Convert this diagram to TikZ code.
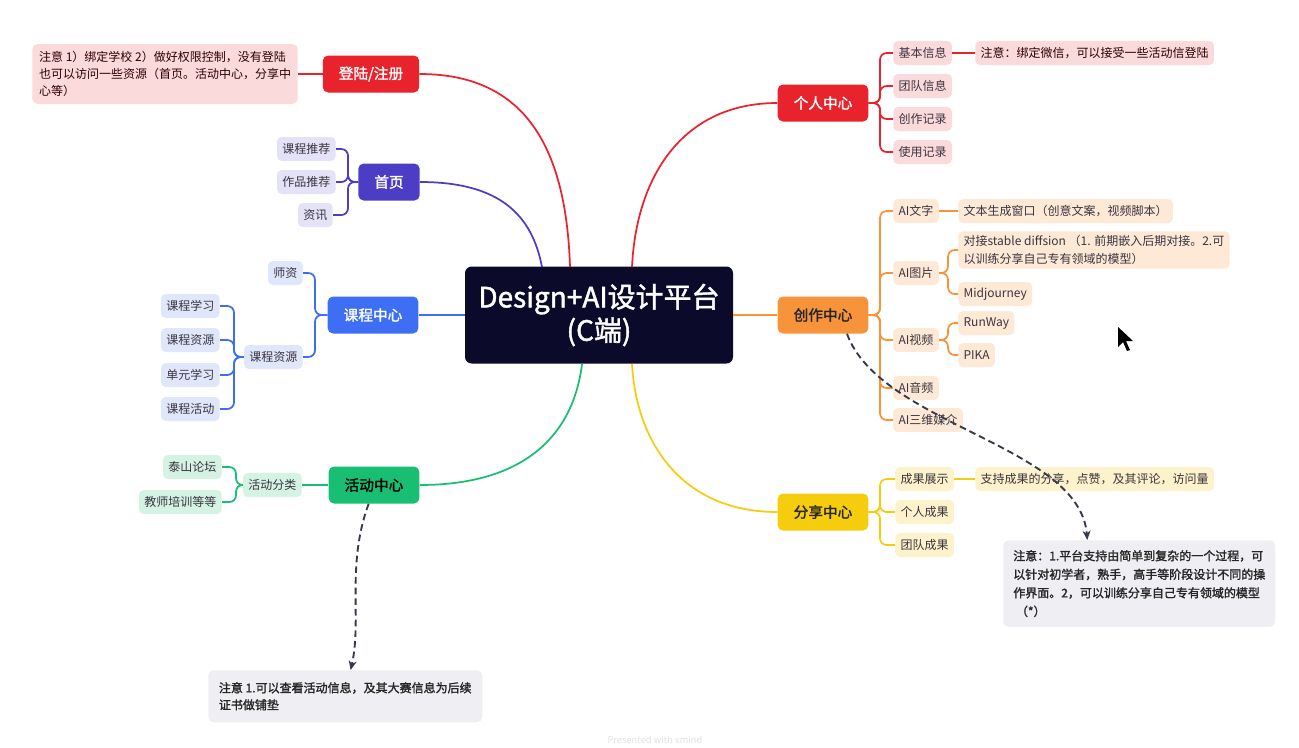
\documentclass[tikz,border=0pt]{standalone}
\usepackage{fontspec}
\setmainfont{Noto Sans CJK SC}[AutoFakeBold=1.6]
\usetikzlibrary{arrows.meta}
\definecolor{cnav}{HTML}{0B0A2B}
\definecolor{cred}{HTML}{E8232C}
\definecolor{cpink}{HTML}{FBDADC}
\definecolor{cpur}{HTML}{4C3DC4}
\definecolor{cpurl}{HTML}{E4E2F7}
\definecolor{cblu}{HTML}{3E6EF4}
\definecolor{cblul}{HTML}{E0E7FB}
\definecolor{cgrn}{HTML}{18BE72}
\definecolor{cgrnl}{HTML}{D5F3E4}
\definecolor{cora}{HTML}{F7933A}
\definecolor{coral}{HTML}{FDE9D6}
\definecolor{cyel}{HTML}{F5CD0C}
\definecolor{cyell}{HTML}{FCF3CC}
\definecolor{cgry}{HTML}{EFEEF2}
\definecolor{ctxt}{HTML}{3B3440}
\definecolor{cdash}{HTML}{343A4A}
\tikzset{
  mainbox/.style={rounded corners=4pt, inner xsep=12pt, inner ysep=0pt, minimum height=27.75pt,
    font=\fontsize{11}{13}\selectfont\bfseries, text=white},
  subbox/.style={rounded corners=3.5pt, inner xsep=4pt, inner ysep=0pt, minimum height=18pt,
    font=\fontsize{9}{11}\selectfont, text=ctxt},
  notebox/.style={rounded corners=4pt, inner xsep=4pt, inner ysep=4pt, align=left, text=ctxt},
  link/.style={line width=1.3pt, rounded corners=5pt},
  dasharrow/.style={line width=1.4pt, dash pattern=on 5pt off 3pt, color=cdash, -{Stealth[length=7pt,width=6pt]}},
}
\begin{document}
\begin{tikzpicture}[x=0.75pt,y=-0.75pt]
\useasboundingbox (0,0) rectangle (1299,747);

% central
\node[fill=cnav, rounded corners=5pt, minimum width=201pt, minimum height=72.75pt, text=white,
  align=center, font=\fontsize{21}{25}\selectfont\bfseries] (c) at (599,315) {Design+AI设计平台\\(C端)};

% ---- main branches ----
\node[mainbox, fill=cred] (dl) at (371,74) {登陆/注册};
\node[mainbox, fill=cpur] (sy) at (389,182) {首页};
\node[mainbox, fill=cblu] (kc) at (373,315) {课程中心};
\node[mainbox, fill=cgrn, text=black] (hd) at (374,485) {活动中心};
\node[mainbox, fill=cred] (gr) at (823,103) {个人中心};
\node[mainbox, fill=cora, text=black!85] (cz) at (823,315) {创作中心};
\node[mainbox, fill=cyel, text=black!85] (fx) at (823,512) {分享中心};

\draw[line width=1.3pt, cred] (dl.east) .. controls (520,74) and (566,140) .. (570,267);
\draw[line width=1.3pt, cpur] (sy.east) .. controls (500,182) and (532,215) .. (542,267);
\draw[line width=1.3pt, cblu] (kc.east) -- (c.west |- kc.east);
\draw[line width=1.3pt, cgrn] (hd.east) .. controls (530,485) and (574,430) .. (582,364);
\draw[line width=1.3pt, cred] (gr.west) .. controls (680,103) and (636,180) .. (632,267);
\draw[line width=1.3pt, cora] (cz.west) -- (c.east |- cz.west);
\draw[line width=1.3pt, cyel] (fx.west) .. controls (680,512) and (636,440) .. (632,364);

% ---- 登陆/注册 note ----
\node[notebox, fill=cpink, anchor=east, text=black!70!red!60!black, minimum width=199pt, minimum height=45pt,
  font=\fontsize{9}{12.75}\selectfont] (dln) at (298,74)
  {注意 1）绑定学校 2）做好权限控制，没有登陆\\也可以访问一些资源（首页。活动中心，分享中\\心等）};
\draw[line width=1.3pt, cred] (dln.east) -- (dl.west);

% ---- 首页 ----
\node[subbox, fill=cpurl, anchor=east] (sy1) at (336,149) {课程推荐};
\node[subbox, fill=cpurl, anchor=east] (sy2) at (336,182) {作品推荐};
\node[subbox, fill=cpurl, anchor=east] (sy3) at (333,215) {资讯};
\foreach \n in {sy1,sy2,sy3}
  \draw[link, cpur] (sy.west) -- (348,182) |- (\n.east);

% ---- 课程中心 ----
\node[subbox, fill=cblul, anchor=east] (kc1) at (303,273) {师资};
\node[subbox, fill=cblul, anchor=east] (kc2) at (303,357) {课程资源};
\foreach \n in {kc1,kc2}
  \draw[link, cblu] (kc.west) -- (315,315) |- (\n.east);
\node[subbox, fill=cblul, anchor=east] (kr1) at (220,306) {课程学习};
\node[subbox, fill=cblul, anchor=east] (kr2) at (220,340) {课程资源};
\node[subbox, fill=cblul, anchor=east] (kr3) at (220,375) {单元学习};
\node[subbox, fill=cblul, anchor=east] (kr4) at (220,409) {课程活动};
\foreach \n in {kr1,kr2,kr3,kr4}
  \draw[link, cblu] (kc2.west) -- (234,357) |- (\n.east);

% ---- 活动中心 ----
\node[subbox, fill=cgrnl, anchor=east] (hd1) at (302,485) {活动分类};
\draw[line width=1.3pt, cgrn] (hd.west) -- (hd1.east);
\node[subbox, fill=cgrnl, anchor=east] (hd11) at (222,467) {泰山论坛};
\node[subbox, fill=cgrnl, anchor=east] (hd12) at (222,502) {教师培训等等};
\foreach \n in {hd11,hd12}
  \draw[link, cgrn] (hd1.west) -- (236,485) |- (\n.east);

\node[notebox, fill=cgry, anchor=north west, minimum width=204.75pt, minimum height=39pt, text=black!85,
  font=\fontsize{9}{12.75}\selectfont\bfseries, inner xsep=8pt] (hdn) at (208,670)
  {注意 1.可以查看活动信息，及其大赛信息为后续\\证书做铺垫};
\draw[dasharrow] ([xshift=-4pt]hd.south) .. controls (346,565) and (362,620) .. ([xshift=4pt]hdn.north);

% ---- 个人中心 ----
\node[subbox, fill=cpink, anchor=west] (gr1) at (893,53) {基本信息};
\node[subbox, fill=cpink, anchor=west] (gr2) at (893,86) {团队信息};
\node[subbox, fill=cpink, anchor=west] (gr3) at (893,119) {创作记录};
\node[subbox, fill=cpink, anchor=west] (gr4) at (893,152) {使用记录};
\foreach \n in {gr1,gr2,gr3,gr4}
  \draw[link, cred] (gr.east) -- (880,103) |- (\n.west);
\node[subbox, fill=cpink, anchor=west, text=black!70!red!60!black] (grn) at (975,53) {注意：绑定微信，可以接受一些活动信登陆};
\draw[line width=1.3pt, cred] (gr1.east) -- (grn.west);

% ---- 创作中心 ----
\node[subbox, fill=coral, anchor=west] (cz1) at (893,211) {AI文字};
\node[subbox, fill=coral, anchor=west] (cz2) at (893,273) {AI图片};
\node[subbox, fill=coral, anchor=west] (cz3) at (893,340) {AI视频};
\node[subbox, fill=coral, anchor=west] (cz4) at (893,388) {AI音频};
\node[subbox, fill=coral, anchor=west] (cz5) at (893,420) {AI三维媒介};
\foreach \n in {cz1,cz2,cz3,cz4,cz5}
  \draw[link, cora] (cz.east) -- (880,315) |- (\n.west);

\node[subbox, fill=coral, anchor=west] (cz11) at (958,211) {文本生成窗口（创意文案，视频脚本）};
\draw[line width=1.3pt, cora] (cz1.east) -- (cz11.west);
\node[subbox, fill=coral, anchor=west, align=left, inner ysep=3pt,
  font=\fontsize{9}{13.5}\selectfont] (cz21) at (958,250)
  {对接stable diffsion （1. 前期嵌入后期对接。2.可\\以训练分享自己专有领域的模型）};
\node[subbox, fill=coral, anchor=west] (cz22) at (958,294) {Midjourney};
\foreach \n in {cz21,cz22}
  \draw[link, cora] (cz2.east) -- (948,273) |- (\n.west);
\node[subbox, fill=coral, anchor=west] (cz31) at (958,323) {RunWay};
\node[subbox, fill=coral, anchor=west] (cz32) at (958,355) {PIKA};
\foreach \n in {cz31,cz32}
  \draw[link, cora] (cz3.east) -- (948,340) |- (\n.west);

% ---- 分享中心 ----
\node[subbox, fill=cyell, anchor=west] (fx1) at (895,479) {成果展示};
\node[subbox, fill=cyell, anchor=west] (fx2) at (895,512) {个人成果};
\node[subbox, fill=cyell, anchor=west] (fx3) at (895,545) {团队成果};
\foreach \n in {fx1,fx2,fx3}
  \draw[link, cyel] (fx.east) -- (880,512) |- (\n.west);
\node[subbox, fill=cyell, anchor=west] (fx11) at (975,479) {支持成果的分享，点赞，及其评论，访问量};
\draw[line width=1.3pt, cyel] (fx1.east) -- (fx11.west);

\node[notebox, fill=cgry, anchor=north west, minimum width=204pt, minimum height=65pt, text=black!85,
  font=\fontsize{9}{13.9}\selectfont\bfseries, inner xsep=7pt] (czn) at (1003,540)
  {注意：1.平台支持由简单到复杂的一个过程，可\\以针对初学者，熟手，高手等阶段设计不同的操\\作界面。2，可以训练分享自己专有领域的模型\\\ （*）};
\draw[dasharrow] ([xshift=18pt]cz.south) .. controls (880,425) and (1080,445) .. ([xshift=-39pt]czn.north);

% cursor
\fill[black] (1118,327) -- (1118,347) -- (1123,342) -- (1127,351) -- (1130,350) -- (1126,341) -- (1133,341) -- cycle;

% footer
\node[text=black!12, font=\fontsize{7}{8}\selectfont] (ft) at (655,740) {Presented with xmind};
\end{tikzpicture}
\end{document}
